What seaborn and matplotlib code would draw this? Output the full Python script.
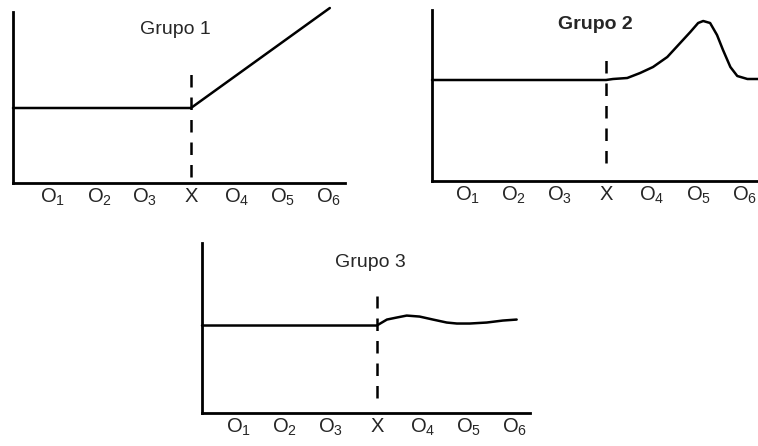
import numpy as np
import pandas as pd
import matplotlib
matplotlib.use('Agg')
import matplotlib.pyplot as plt
import seaborn as sns

# x positions: 0..6 -> O1, O2, O3, X, O4, O5, O6
tick_labels = [r'O$_{\mathrm{1}}$', r'O$_{\mathrm{2}}$', r'O$_{\mathrm{3}}$', 'X',
               r'O$_{\mathrm{4}}$', r'O$_{\mathrm{5}}$', r'O$_{\mathrm{6}}$']
titles = ['Grupo 1', 'Grupo 2', 'Grupo 3']

# Grupo 1: flat until X, then straight rise
g1_x = [-0.87, 3.0, 6.02]
g1_y = [75, 75, 175]

# Grupo 2: flat, then a peak around O5, back to baseline
g2_x = [-0.78, 3.0, 3.15, 3.46, 3.74, 4.02, 4.33, 4.61, 4.83, 5.0, 5.11,
        5.26, 5.41, 5.54, 5.70, 5.85, 6.07, 6.30]
g2_y = [101, 101, 102, 103, 108, 114, 124, 138, 149, 158, 160,
        158, 146, 131, 114, 105, 102, 102]

# Grupo 3: flat, then a small wobble
g3_x = [-0.80, 3.0, 3.22, 3.43, 3.65, 3.93, 4.22, 4.52, 4.74, 5.02, 5.39, 5.74, 6.04]
g3_y = [88, 88, 94, 96, 98, 97, 94, 91, 90, 90, 91, 93, 94]

# vertical dashed line at X (bottom, top)
dash_spans = [(6, 115), (18, 121), (15, 118)]

sns.set_style('white')
plt.rcParams['font.family'] = ['Liberation Sans', 'DejaVu Sans']
plt.rcParams['mathtext.fontset'] = 'custom'
plt.rcParams['mathtext.rm'] = 'Liberation Sans'
plt.rcParams['mathtext.it'] = 'Liberation Sans'

fig = plt.figure(figsize=(7.58, 4.46), dpi=100)

# axes rectangles in figure fraction
rects = [
    [13 / 758, (446 - 183) / 446, 332 / 758, 171 / 446],
    [432 / 758, (446 - 181) / 446, 326 / 758, 171 / 446],
    [202 / 758, (446 - 413) / 446, 328 / 758, 170 / 446],
]
xlims = [(-0.87, 6.35), (-0.78, 6.30), (-0.80, 6.33)]
title_pos = [(0.488, 0.895), (0.50, 0.918), (0.512, 0.888)]
curves = [(g1_x, g1_y), (g2_x, g2_y), (g3_x, g3_y)]

for i in range(3):
    ax = fig.add_axes(rects[i])
    cx, cy = curves[i]
    df = pd.DataFrame({'t': cx, 'v': cy})
    sns.lineplot(data=df, x='t', y='v', ax=ax, color='black', linewidth=1.8,
                 sort=False, estimator=None, clip_on=False)
    lo, hi = dash_spans[i]
    ax.plot([3, 3], [lo, hi], color='black', linewidth=1.8, linestyle=(0, (5, 4)))
    ax.set_xlim(*xlims[i])
    ax.set_ylim(0, 171)
    ax.set_xticks(range(7))
    ax.set_xticklabels(tick_labels, fontsize=14.5)
    ax.set_yticks([])
    ax.tick_params(axis='x', length=0, pad=3)
    ax.set_xlabel('')
    ax.set_ylabel('')
    for s in ['top', 'right']:
        ax.spines[s].set_visible(False)
    for s in ['left', 'bottom']:
        ax.spines[s].set_color('black')
        ax.spines[s].set_linewidth(2)
    tx, ty = title_pos[i]
    ax.text(tx, ty, titles[i], transform=ax.transAxes, ha='center', va='center',
            fontsize=14, fontweight='bold' if i == 1 else 'normal')

fig.savefig('out.png', dpi=100, facecolor='white')
